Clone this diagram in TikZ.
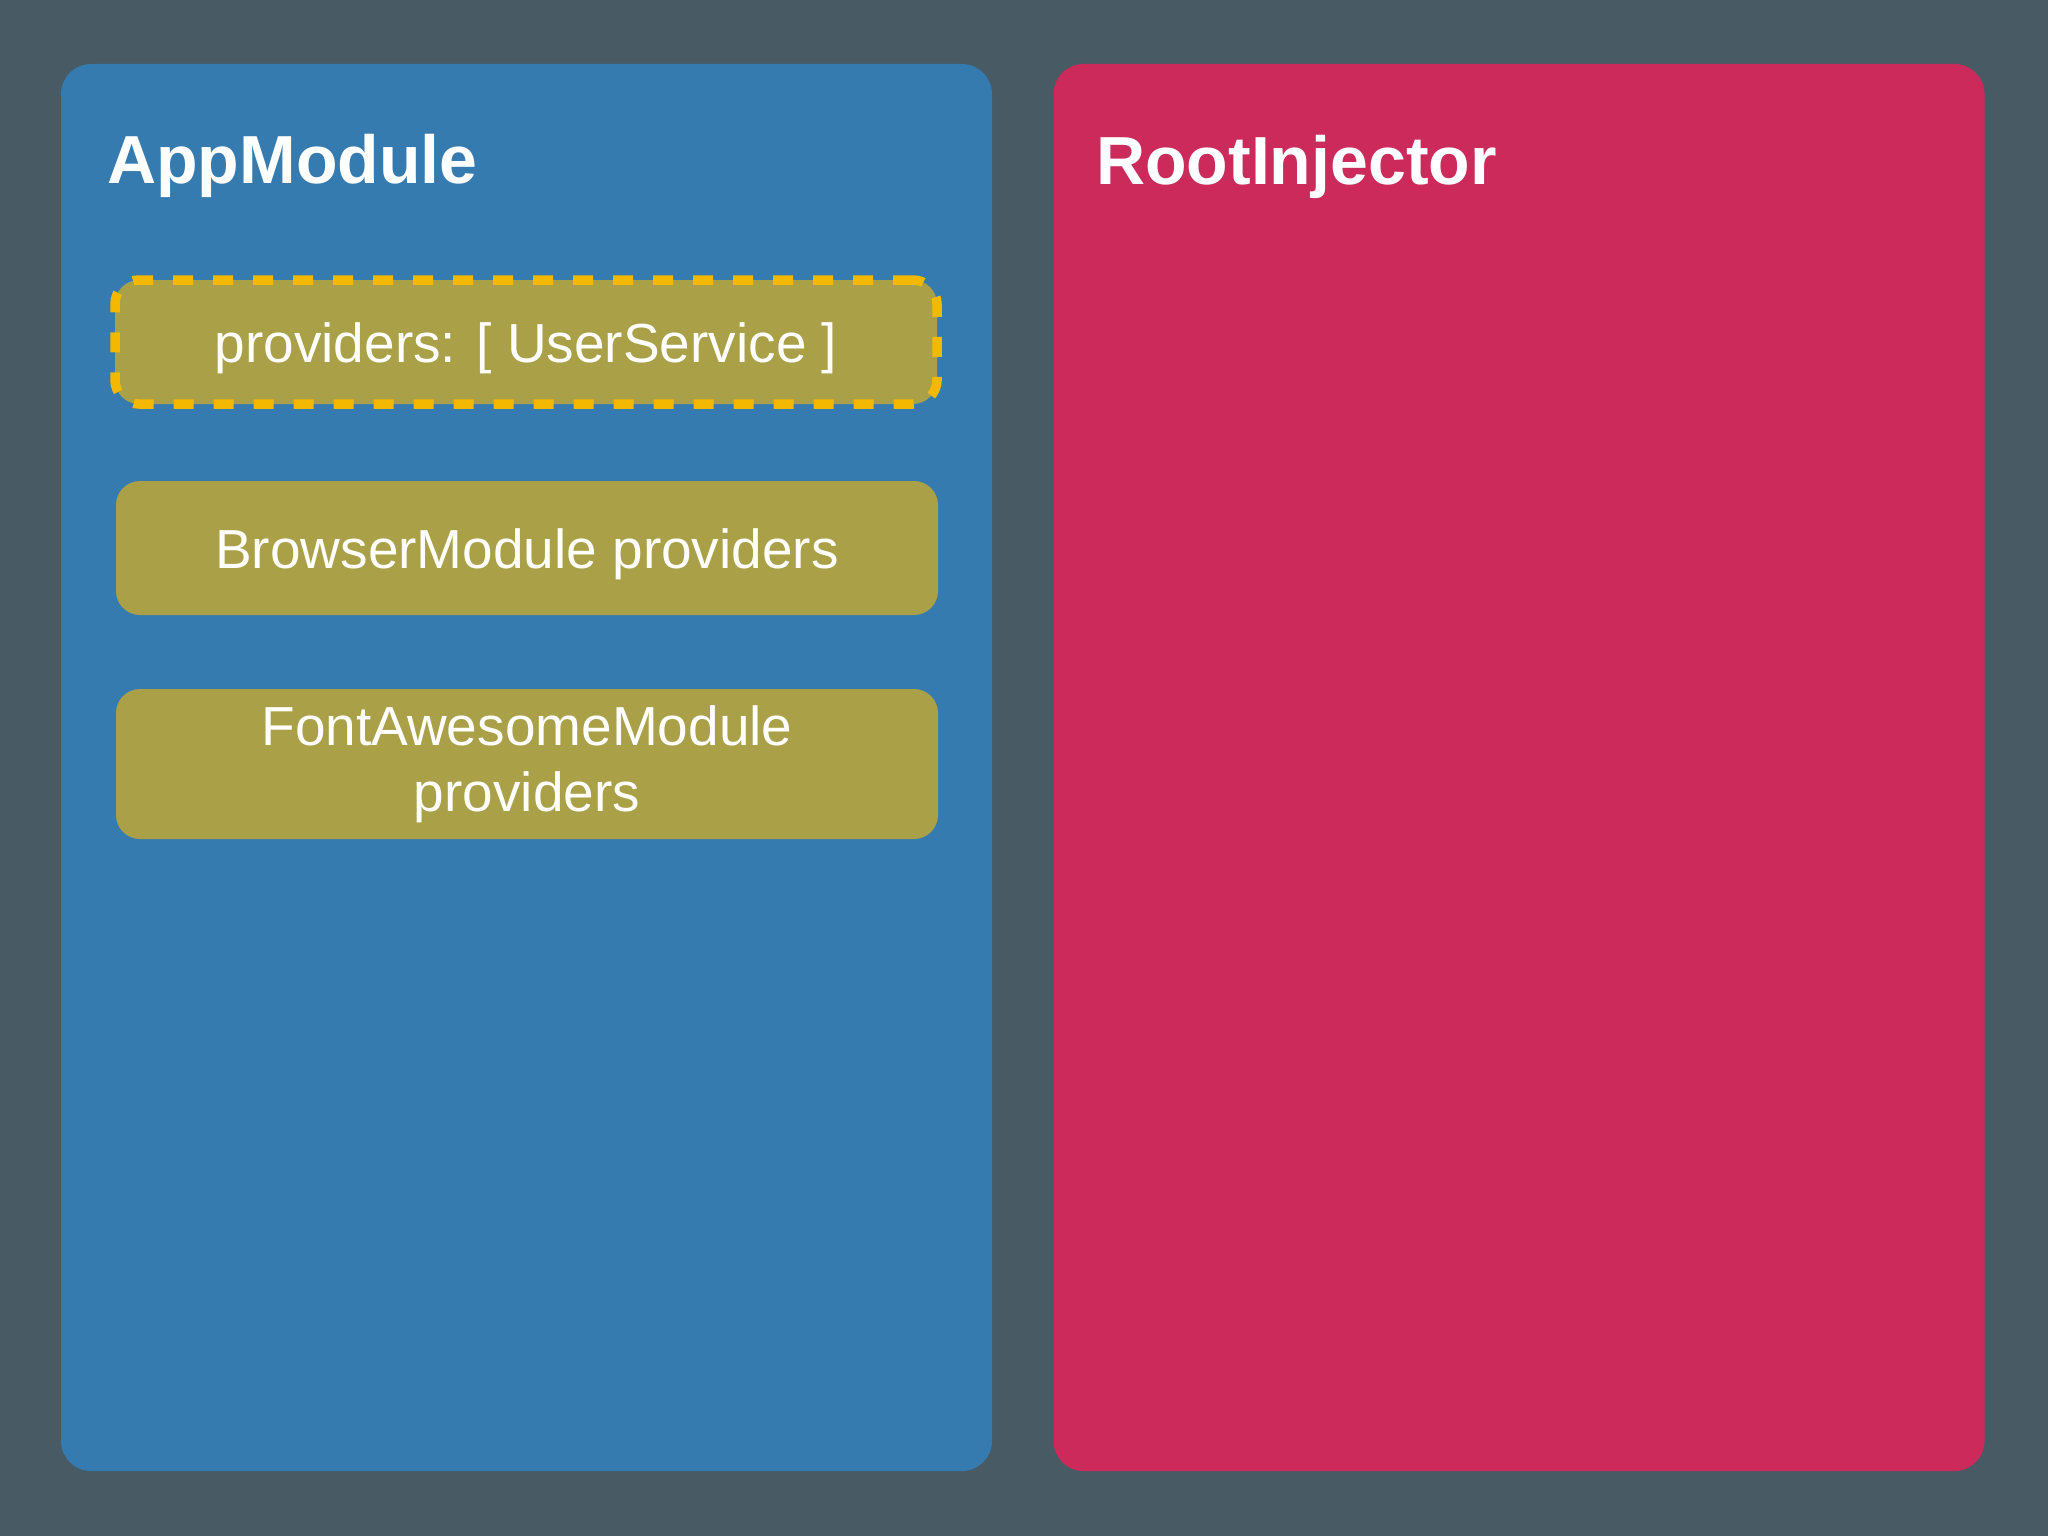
\documentclass[tikz,border=0pt]{standalone}
\usepackage{fontspec}
\setmainfont{Liberation Sans}
\definecolor{bgc}{HTML}{485A64}
\definecolor{bluec}{HTML}{357BB0}
\definecolor{redc}{HTML}{CB2A5B}
\definecolor{olivec}{HTML}{A9A047}
\definecolor{yellowc}{HTML}{F5B800}
\begin{document}
\begin{tikzpicture}[x=1pt,y=-1pt,
  panel/.style={fill=#1, rounded corners=30pt, minimum width=931pt, minimum height=1407pt, inner sep=0pt},
  paneltitle/.style={anchor=base west, text=white, inner sep=0pt, font=\fontsize{68}{80}\selectfont\bfseries},
  provbox/.style={fill=olivec, rounded corners=24pt, minimum width=822pt, minimum height=#1, inner sep=0pt,
    text=white, font=\fontsize{55}{66}\selectfont, align=center},
  oneline/.style={text height=44pt, text depth=4pt},
  highlight/.style={draw=yellowc, line width=9.5pt, dash pattern=on 20pt off 20pt}
]
\useasboundingbox[fill=bgc] (0,0) rectangle (2048,1536);
\node[panel=bluec] (app) at (526.5,767.5) {};
\node[panel=redc] (root) at (1519,767.5) {};
\node[paneltitle] (apptitle) at (107,183) {AppModule};
\node[paneltitle] (roottitle) at (1096,184) {RootInjector};
\node[provbox=124pt, oneline, highlight] (userprov) at (526,342) {providers: [ UserService ]};
\node[provbox=134pt, oneline] (browserprov) at (527,548) {BrowserModule providers};
\node[provbox=150pt] (faprov) at (527,764) {FontAwesomeModule\\providers};
\end{tikzpicture}
\end{document}
